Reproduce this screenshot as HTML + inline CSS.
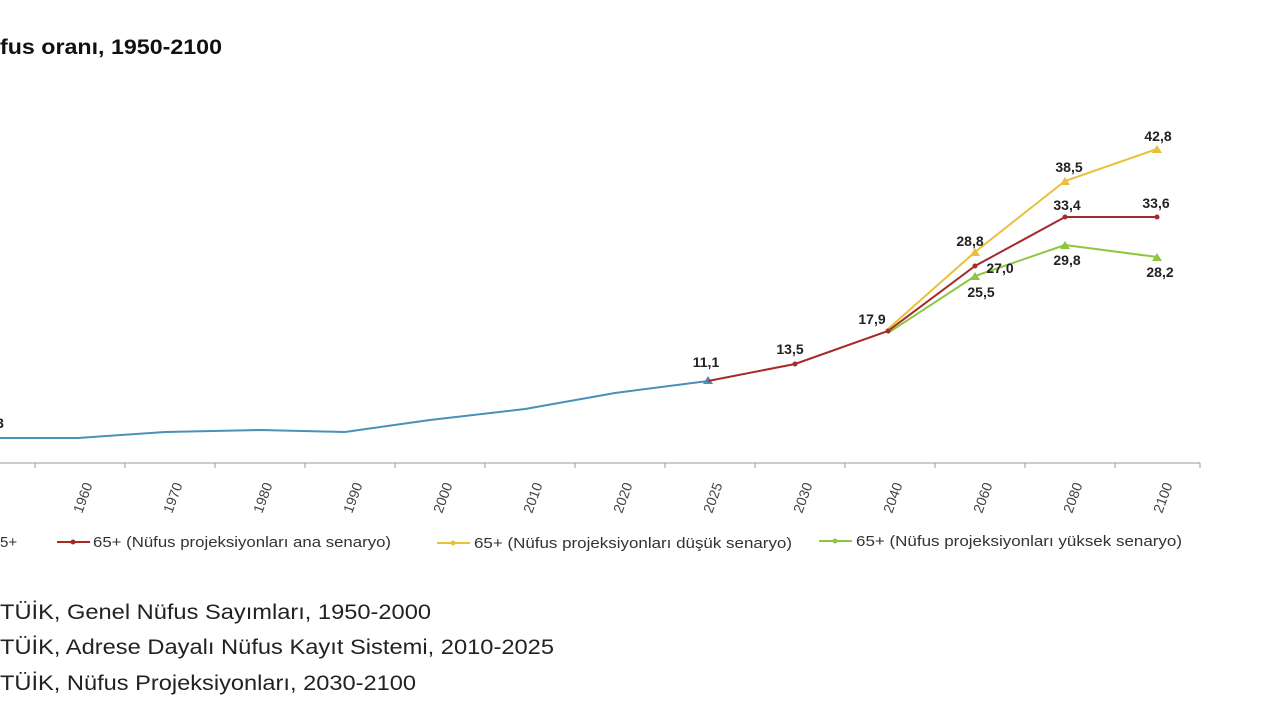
<!DOCTYPE html>
<html><head><meta charset="utf-8"><style>
body{margin:0;background:#fff;width:1280px;height:720px;overflow:hidden;font-family:"Liberation Sans",Arial,sans-serif}
</style></head><body>
<svg width="1280" height="720" xmlns="http://www.w3.org/2000/svg" font-family="Liberation Sans, Arial, sans-serif">
<text x="0" y="54" font-size="21" font-weight="bold" fill="#111" textLength="222" lengthAdjust="spacingAndGlyphs">fus oranı, 1950-2100</text>
<line x1="0" y1="463" x2="1200" y2="463" stroke="#999" stroke-width="1"/>
<g stroke="#999">
<line x1="35" y1="463" x2="35" y2="468"/><line x1="125" y1="463" x2="125" y2="468"/><line x1="215" y1="463" x2="215" y2="468"/><line x1="305" y1="463" x2="305" y2="468"/><line x1="395" y1="463" x2="395" y2="468"/><line x1="485" y1="463" x2="485" y2="468"/><line x1="575" y1="463" x2="575" y2="468"/><line x1="665" y1="463" x2="665" y2="468"/><line x1="755" y1="463" x2="755" y2="468"/><line x1="845" y1="463" x2="845" y2="468"/><line x1="935" y1="463" x2="935" y2="468"/><line x1="1025" y1="463" x2="1025" y2="468"/><line x1="1115" y1="463" x2="1115" y2="468"/><line x1="1200" y1="463" x2="1200" y2="468"/>
</g>
<g font-size="14" fill="#444">
<text transform="translate(82,514) rotate(-70)">1960</text>
<text transform="translate(172,514) rotate(-70)">1970</text>
<text transform="translate(262,514) rotate(-70)">1980</text>
<text transform="translate(352,514) rotate(-70)">1990</text>
<text transform="translate(442,514) rotate(-70)">2000</text>
<text transform="translate(532,514) rotate(-70)">2010</text>
<text transform="translate(622,514) rotate(-70)">2020</text>
<text transform="translate(712,514) rotate(-70)">2025</text>
<text transform="translate(802,514) rotate(-70)">2030</text>
<text transform="translate(892,514) rotate(-70)">2040</text>
<text transform="translate(982,514) rotate(-70)">2060</text>
<text transform="translate(1072,514) rotate(-70)">2080</text>
<text transform="translate(1162,514) rotate(-70)">2100</text>
</g>
<polyline fill="none" stroke="#4a90b8" stroke-width="2" points="0,438 78,438 165,432 260,430 345,432 430,420 525,409 615,393 708,381"/>
<polygon points="708,376 713,384 703,384" fill="#4a90b8"/>
<polyline fill="none" stroke="#e8c03a" stroke-width="2" points="888,329 975,252 1065,181 1157,149"/>
<polyline fill="none" stroke="#8dc63f" stroke-width="2" points="888,333 975,276 1065,245 1157,257"/>
<polyline fill="none" stroke="#a52a2a" stroke-width="2" points="708,381 795,364 888,331 975,266 1065,217 1157,217"/>
<g fill="#e8c03a"><polygon points="975,248 980,256 970,256"/><polygon points="1065,177 1070,185 1060,185"/><polygon points="1157,145 1162,153 1152,153"/></g>
<g fill="#8dc63f"><polygon points="975,272 980,280 970,280"/><polygon points="1065,241 1070,249 1060,249"/><polygon points="1157,253 1162,261 1152,261"/></g>
<g fill="#a52a2a"><circle cx="795" cy="364" r="2.5"/><circle cx="888" cy="331" r="2.5"/><circle cx="975" cy="266" r="2.5"/><circle cx="1065" cy="217" r="2.5"/><circle cx="1157" cy="217" r="2.5"/></g>
<g font-size="14" font-weight="bold" fill="#222" text-anchor="middle">
<text x="0" y="428">3</text>
<text x="706" y="367">11,1</text>
<text x="790" y="354">13,5</text>
<text x="872" y="324">17,9</text>
<text x="970" y="246">28,8</text>
<text x="1000" y="273">27,0</text>
<text x="981" y="297">25,5</text>
<text x="1069" y="172">38,5</text>
<text x="1067" y="210">33,4</text>
<text x="1067" y="265">29,8</text>
<text x="1158" y="141">42,8</text>
<text x="1156" y="208">33,6</text>
<text x="1160" y="277">28,2</text>
</g>
<g font-size="15" fill="#333">
<text x="0" y="547">5+</text>
<line x1="57" y1="542" x2="90" y2="542" stroke="#a52a2a" stroke-width="2"/><circle cx="73" cy="542" r="2.5" fill="#a52a2a"/>
<text x="93" y="547" textLength="298" lengthAdjust="spacingAndGlyphs">65+ (Nüfus projeksiyonları ana senaryo)</text>
<line x1="437" y1="543" x2="470" y2="543" stroke="#e8c03a" stroke-width="2"/><circle cx="453" cy="543" r="2.5" fill="#e8c03a"/>
<text x="474" y="548" textLength="318" lengthAdjust="spacingAndGlyphs">65+ (Nüfus projeksiyonları düşük senaryo)</text>
<line x1="819" y1="541" x2="852" y2="541" stroke="#8dc63f" stroke-width="2"/><circle cx="835" cy="541" r="2.5" fill="#8dc63f"/>
<text x="856" y="546" textLength="326" lengthAdjust="spacingAndGlyphs">65+ (Nüfus projeksiyonları yüksek senaryo)</text>
</g>
<g font-size="21" fill="#222">
<text x="0" y="619" textLength="431" lengthAdjust="spacingAndGlyphs">TÜİK, Genel Nüfus Sayımları, 1950-2000</text>
<text x="0" y="654" textLength="554" lengthAdjust="spacingAndGlyphs">TÜİK, Adrese Dayalı Nüfus Kayıt Sistemi, 2010-2025</text>
<text x="0" y="690" textLength="416" lengthAdjust="spacingAndGlyphs">TÜİK, Nüfus Projeksiyonları, 2030-2100</text>
</g>
</svg>
</body></html>
